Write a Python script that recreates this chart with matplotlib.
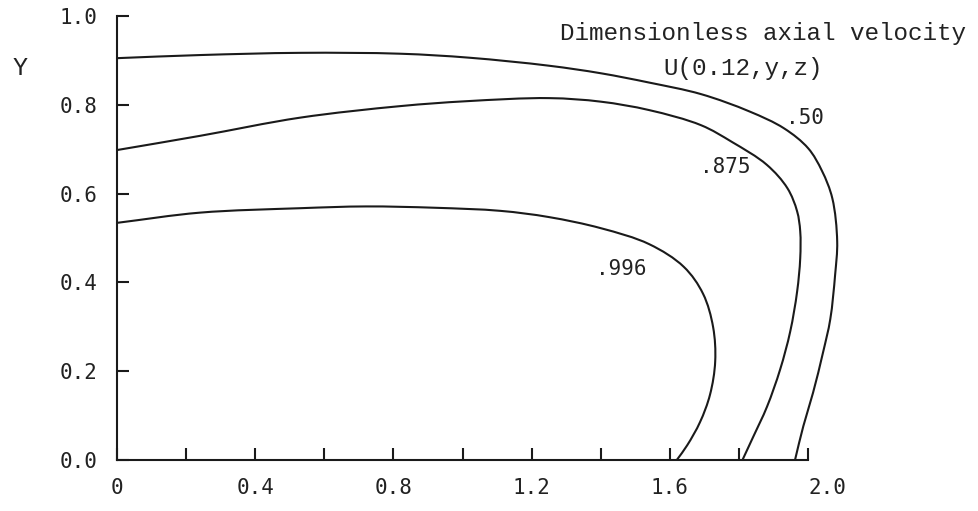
import matplotlib
matplotlib.use("Agg")
import matplotlib.pyplot as plt
import numpy as np
from matplotlib.path import Path
from matplotlib.patches import PathPatch

# contour U = .50 (outer)
x_50 = [0.0, 0.24, 0.53, 0.82, 1.02, 1.25, 1.40, 1.54, 1.69, 1.83, 1.93, 2.00,
        2.04, 2.07, 2.084, 2.078, 2.064, 2.043, 2.014, 1.986, 1.962]
y_50 = [0.905, 0.912, 0.917, 0.915, 0.906, 0.888, 0.871, 0.850, 0.824, 0.785, 0.747, 0.702,
        0.651, 0.589, 0.492, 0.417, 0.317, 0.242, 0.151, 0.076, 0.0]

# contour U = .875 (middle)
x_875 = [0.0, 0.24, 0.53, 0.82, 1.01, 1.25, 1.40, 1.54, 1.69, 1.78, 1.88, 1.94, 1.968,
         1.977, 1.977, 1.968, 1.948, 1.919, 1.881, 1.841, 1.81]
y_875 = [0.698, 0.730, 0.771, 0.797, 0.808, 0.815, 0.807, 0.788, 0.754, 0.716, 0.665, 0.612, 0.560,
         0.515, 0.454, 0.379, 0.289, 0.204, 0.120, 0.052, 0.0]

# contour U = .996 (inner)
x_996 = [0.0, 0.24, 0.53, 0.72, 0.92, 1.11, 1.25, 1.40, 1.54, 1.64, 1.696, 1.725,
         1.731, 1.716, 1.687, 1.650, 1.62]
y_996 = [0.534, 0.557, 0.567, 0.571, 0.568, 0.561, 0.547, 0.522, 0.486, 0.435, 0.374, 0.299,
         0.222, 0.147, 0.085, 0.033, 0.0]

curve_labels = [".50", ".875", ".996"]
label_x = [1.99, 1.76, 1.46]
label_y = [0.77, 0.66, 0.43]

x_major = [0.0, 0.4, 0.8, 1.2, 1.6, 2.0]
x_major_labels = ["0", "0.4", "0.8", "1.2", "1.6", "2.0"]
x_minor = [0.2, 0.6, 1.0, 1.4, 1.8]
y_ticks = [0.0, 0.2, 0.4, 0.6, 0.8, 1.0]
y_tick_labels = ["0.0", "0.2", "0.4", "0.6", "0.8", "1.0"]

ASPECT = 1.273  # y units are stretched this much vs x units on screen


def smooth_path(xs, ys):
    # centripetal catmull-rom through the read points, as bezier segments
    p = np.column_stack([xs, np.asarray(ys) * ASPECT])
    p = np.vstack([2 * p[0] - p[1], p, 2 * p[-1] - p[-2]])
    verts = [p[1]]
    codes = [Path.MOVETO]
    for i in range(1, len(p) - 2):
        p0, p1, p2, p3 = p[i - 1], p[i], p[i + 1], p[i + 2]
        d1 = np.linalg.norm(p1 - p0) ** 0.5
        d2 = np.linalg.norm(p2 - p1) ** 0.5
        d3 = np.linalg.norm(p3 - p2) ** 0.5
        b1 = (d1**2 * p2 - d2**2 * p0 + (2 * d1**2 + 3 * d1 * d2 + d2**2) * p1) / (3 * d1 * (d1 + d2))
        b2 = (d3**2 * p1 - d2**2 * p3 + (2 * d3**2 + 3 * d3 * d2 + d2**2) * p2) / (3 * d3 * (d3 + d2))
        verts += [b1, b2, p2]
        codes += [Path.CURVE4] * 3
    verts = np.array(verts)
    verts[:, 1] /= ASPECT
    return Path(verts, codes)


fig = plt.figure(figsize=(9.79, 5.11), dpi=100)
ax = fig.add_axes([0.1195, 0.1, 0.706, 0.8687])

lw = 1.5
for xs, ys in [(x_50, y_50), (x_875, y_875), (x_996, y_996)]:
    ax.add_patch(PathPatch(smooth_path(xs, ys), fill=False, edgecolor="#1a1a1a",
                           lw=lw, clip_on=False, capstyle="round"))

for s, lx, ly in zip(curve_labels, label_x, label_y):
    ax.text(lx, ly, s, ha="center", va="center", fontsize=15,
            family="DejaVu Sans Mono", color="#222222")

ax.set_xlim(0, 2.0)
ax.set_ylim(0, 1.0)
for side in ["top", "right"]:
    ax.spines[side].set_visible(False)
for side in ["left", "bottom"]:
    ax.spines[side].set_linewidth(lw)
    ax.spines[side].set_color("#1a1a1a")

ax.set_xticks(x_major, x_major_labels)
ax.set_xticks(x_minor, minor=True)
ax.set_yticks(y_ticks, y_tick_labels)
ax.tick_params(axis="both", which="both", direction="in", length=8.5, width=lw,
               color="#1a1a1a", labelsize=15, labelcolor="#222222")
ax.tick_params(axis="x", pad=13)
ax.tick_params(axis="y", pad=14)
for lbl in ax.get_xticklabels() + ax.get_yticklabels():
    lbl.set_family("DejaVu Sans Mono")
ax.get_xticklabels()[-1].set_ha("left")

fig.text(0.779, 0.935, "Dimensionless axial velocity", ha="center", va="center",
         fontsize=17.5, family="Liberation Mono", color="#222222")
fig.text(0.759, 0.865, "U(0.12,y,z)", ha="center", va="center",
         fontsize=17.5, family="Liberation Mono", color="#222222")
fig.text(0.0204, 0.867, "Y", ha="center", va="center",
         fontsize=18, family="Liberation Mono", color="#222222")

fig.savefig("out.png", dpi=100)
